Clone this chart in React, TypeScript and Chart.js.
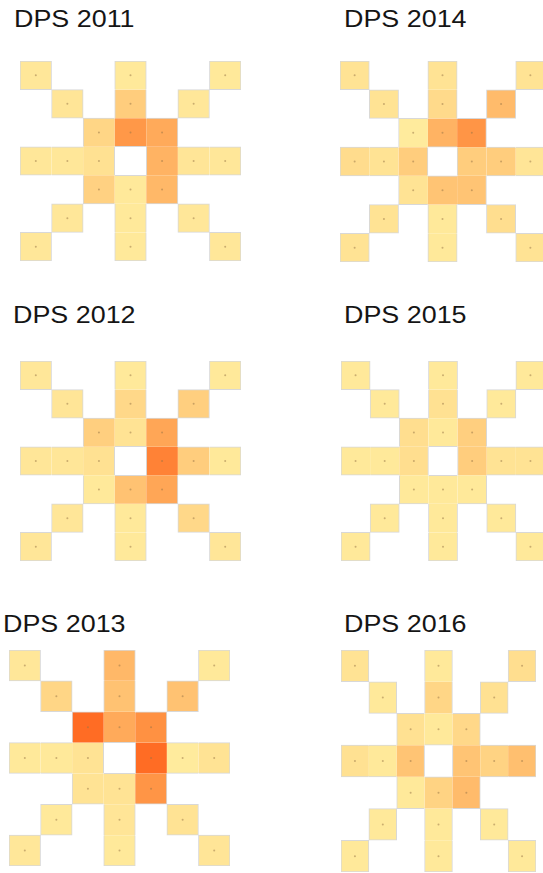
import React, { useEffect, useRef } from 'react';
import { Chart, registerables } from 'chart.js';

Chart.register(...registerables);

// Grid categories (7 x 7 star pattern, centre empty)
const COLUMN_LABELS = ['0', '1', '2', '3', '4', '5', '6'];
const ROW_LABELS = [0, 1, 2, 3, 4, 5, 6];
// Cell positions, in reading order
const CELL_ROWS = [0, 0, 0, 1, 1, 1, 2, 2, 2, 3, 3, 3, 3, 3, 3, 4, 4, 4, 5, 5, 5, 6, 6, 6];
const CELL_COLS = [0, 3, 6, 1, 3, 5, 2, 3, 4, 0, 1, 2, 4, 5, 6, 2, 3, 4, 1, 3, 5, 0, 3, 6];

// Intensity per cell (0 = palest, 1 = darkest)
const DPS_2011 = [0.06, 0.05, 0.05, 0.08, 0.3, 0.06, 0.22, 0.6, 0.5, 0.06, 0.06, 0.12, 0.45, 0.08, 0.06, 0.26, 0.05, 0.42, 0.06, 0.05, 0.06, 0.06, 0.05, 0.06];
const DPS_2012 = [0.06, 0.05, 0.05, 0.08, 0.2, 0.28, 0.28, 0.1, 0.52, 0.07, 0.07, 0.12, 0.75, 0.3, 0.05, 0.05, 0.36, 0.52, 0.07, 0.05, 0.2, 0.07, 0.05, 0.07];
const DPS_2013 = [0.06, 0.42, 0.05, 0.22, 0.36, 0.36, 0.9, 0.5, 0.65, 0.05, 0.05, 0.1, 0.9, 0.03, 0.1, 0.1, 0.1, 0.62, 0.05, 0.08, 0.1, 0.06, 0.05, 0.08];
const DPS_2014 = [0.1, 0.1, 0.1, 0.1, 0.18, 0.4, 0.03, 0.45, 0.62, 0.16, 0.1, 0.3, 0.3, 0.3, 0.08, 0.1, 0.35, 0.35, 0.1, 0.05, 0.15, 0.1, 0.05, 0.1];
const DPS_2015 = [0.05, 0.05, 0.05, 0.05, 0.12, 0.05, 0.15, 0.05, 0.28, 0.05, 0.05, 0.15, 0.3, 0.1, 0.1, 0.05, 0.05, 0.05, 0.05, 0.05, 0.05, 0.05, 0.05, 0.05];
const DPS_2016 = [0.1, 0.05, 0.15, 0.05, 0.22, 0.12, 0.12, 0.05, 0.2, 0.12, 0.05, 0.35, 0.35, 0.25, 0.38, 0.05, 0.25, 0.4, 0.05, 0.05, 0.05, 0.05, 0.05, 0.05];

const TITLES = ['DPS 2011', 'DPS 2012', 'DPS 2013', 'DPS 2014', 'DPS 2015', 'DPS 2016'];

const STOPS: [number, number[]][] = [
  [0, [255, 238, 160]],
  [0.3, [255, 205, 125]],
  [0.6, [255, 152, 72]],
  [0.9, [255, 108, 36]],
  [1, [250, 92, 30]],
];

function colorFor(v: number): string {
  for (let i = 1; i < STOPS.length; i++) {
    const [p1, c1] = STOPS[i];
    const [p0, c0] = STOPS[i - 1];
    if (v <= p1) {
      const t = (v - p0) / (p1 - p0);
      const c = c0.map((a, k) => Math.round(a + (c1[k] - a) * t));
      return `rgb(${c[0]},${c[1]},${c[2]})`;
    }
  }
  const c = STOPS[STOPS.length - 1][1];
  return `rgb(${c[0]},${c[1]},${c[2]})`;
}

function hasCell(r: number, c: number): boolean {
  for (let i = 0; i < CELL_ROWS.length; i++) if (CELL_ROWS[i] === r && CELL_COLS[i] === c) return true;
  return false;
}

type Box = { left: number; top: number; width: number; height: number };
type Panel = { title: string; values: number[]; grid: Box; titleX: number; titleY: number };

const PAD = 2;

function HeatPanel({ panel }: { panel: Panel }) {
  const ref = useRef<HTMLCanvasElement | null>(null);
  useEffect(() => {
    if (!ref.current) return;
    const datasets: any[] = [];
    // centre dots
    datasets.push({
      type: 'scatter',
      order: 0,
      data: CELL_ROWS.map((r, i) => ({ x: COLUMN_LABELS[CELL_COLS[i]], y: r })),
      pointRadius: 1,
      pointBorderWidth: 0,
      pointBackgroundColor: 'rgba(150,115,70,0.5)',
      pointHoverRadius: 1,
    });
    ROW_LABELS.forEach((r) => {
      const data = COLUMN_LABELS.map((_, c) => (hasCell(r, c) ? [r - 0.5, r + 0.5] : null));
      const colors = COLUMN_LABELS.map((_, c) => {
        const idx = CELL_ROWS.findIndex((rr, i) => rr === r && CELL_COLS[i] === c);
        return idx >= 0 ? colorFor(panel.values[idx]) : 'transparent';
      });
      const borders = COLUMN_LABELS.map((_, c) => ({
        top: hasCell(r - 1, c) ? 0 : 1,
        bottom: hasCell(r + 1, c) ? 0 : 1,
        left: hasCell(r, c - 1) ? 0 : 1,
        right: hasCell(r, c + 1) ? 0 : 1,
      }));
      datasets.push({
        type: 'bar',
        order: 1,
        data,
        backgroundColor: colors,
        borderColor: 'rgba(212,212,212,0.9)',
        borderWidth: borders,
        borderSkipped: false,
        grouped: false,
        barPercentage: 1,
        categoryPercentage: 1,
      });
    });
    const chart = new Chart(ref.current, {
      type: 'bar',
      data: { labels: COLUMN_LABELS, datasets },
      options: {
        responsive: false,
        animation: false,
        layout: { padding: PAD },
        plugins: { legend: { display: false }, tooltip: { enabled: false }, title: { display: false } },
        scales: {
          x: { type: 'category', display: false, offset: true, grid: { display: false } },
          y: { type: 'linear', display: false, min: -0.5, max: 6.5, reverse: true, grid: { display: false } },
        },
      },
    } as any);
    return () => chart.destroy();
  }, [panel]);

  const g = panel.grid;
  return (
    <>
      <div
        style={{
          position: 'absolute',
          left: panel.titleX,
          top: panel.titleY,
          font: '24px "Liberation Sans", Arial, sans-serif',
          lineHeight: '24px',
          color: '#151515',
          whiteSpace: 'nowrap',
          transform: 'scaleX(1.12)',
          transformOrigin: 'left top',
        }}
      >
        {panel.title}
      </div>
      <canvas
        ref={ref}
        width={g.width + PAD * 2}
        height={g.height + PAD * 2}
        style={{ position: 'absolute', left: g.left - PAD, top: g.top - PAD, width: g.width + PAD * 2, height: g.height + PAD * 2 }}
      />
    </>
  );
}

const PANELS: Panel[] = [
  { title: TITLES[0], values: DPS_2011, grid: { left: 20, top: 61, width: 221, height: 200 }, titleX: 14, titleY: 7 },
  { title: TITLES[1], values: DPS_2012, grid: { left: 20, top: 361, width: 221, height: 200 }, titleX: 13, titleY: 303 },
  { title: TITLES[2], values: DPS_2013, grid: { left: 9, top: 650, width: 221, height: 216 }, titleX: 3, titleY: 612 },
  { title: TITLES[3], values: DPS_2014, grid: { left: 340, top: 61, width: 205, height: 201 }, titleX: 344, titleY: 7 },
  { title: TITLES[4], values: DPS_2015, grid: { left: 341, top: 361, width: 204, height: 200 }, titleX: 344, titleY: 303 },
  { title: TITLES[5], values: DPS_2016, grid: { left: 341, top: 650, width: 195, height: 222 }, titleX: 344, titleY: 612 },
];

export default function App() {
  return (
    <div style={{ position: 'absolute', left: 0, top: 0, width: 543, height: 873, overflow: 'hidden', background: '#fff' }}>
      {PANELS.map((p) => (
        <HeatPanel key={p.title} panel={p} />
      ))}
    </div>
  );
}
